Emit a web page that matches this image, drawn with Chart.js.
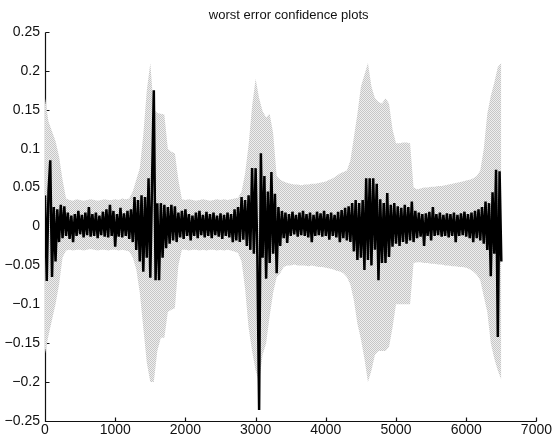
<!DOCTYPE html>
<html>
<head>
<meta charset="utf-8">
<script src="https://cdn.jsdelivr.net/npm/chart.js@4.4.1/dist/chart.umd.min.js"></script>
<style>
  html, body { margin: 0; padding: 0; background: #ffffff; }
  #wrap { width: 553px; height: 441px; }
</style>
</head>
<body>
<div id="wrap"><canvas id="c" width="553" height="441"></canvas></div>
<script>
// ---------- DATA ----------
const chartTitle = "worst error confidence plots";
const xTickValues = [0, 1000, 2000, 3000, 4000, 5000, 6000, 7000];
const yTickValues = [0.25, 0.2, 0.15, 0.1, 0.05, 0, -0.05, -0.1, -0.15, -0.2, -0.25];

// confidence band, sampled every 50 samples from 0 to 6500
const bandStep = 50;
const bandUpper = [
  0.165, 0.135, 0.122, 0.11, 0.09, 0.06, 0.036, 0.034, 0.033, 0.035,
  0.034, 0.033, 0.034, 0.035, 0.034, 0.033, 0.034, 0.035, 0.034, 0.034,
  0.035, 0.034, 0.036, 0.035, 0.036, 0.045, 0.06, 0.075, 0.118, 0.175,
  0.21, 0.15, 0.146, 0.145, 0.144, 0.1, 0.096, 0.094, 0.06, 0.035,
  0.034, 0.035, 0.034, 0.033, 0.034, 0.035, 0.034, 0.033, 0.034, 0.035,
  0.034, 0.035, 0.034, 0.035, 0.036, 0.037, 0.045, 0.068, 0.105, 0.155,
  0.19, 0.165, 0.148, 0.14, 0.145, 0.12, 0.065, 0.06, 0.058, 0.056,
  0.055, 0.054, 0.054, 0.053, 0.054, 0.054, 0.055, 0.055, 0.056, 0.057,
  0.058, 0.06, 0.062, 0.065, 0.068, 0.07, 0.072, 0.085, 0.115, 0.145,
  0.18, 0.195, 0.21, 0.18, 0.165, 0.16, 0.158, 0.165, 0.158, 0.125,
  0.107, 0.107, 0.108, 0.108, 0.107, 0.05, 0.048, 0.049, 0.05, 0.05,
  0.051, 0.051, 0.052, 0.052, 0.053, 0.054, 0.055, 0.056, 0.057, 0.058,
  0.059, 0.06, 0.062, 0.065, 0.072, 0.1, 0.145, 0.168, 0.185, 0.205,
  0.21
];
const bandLower = [
  -0.163, -0.14, -0.12, -0.1, -0.075, -0.04, -0.031, -0.03, -0.031, -0.03,
  -0.03, -0.031, -0.03, -0.029, -0.03, -0.031, -0.03, -0.03, -0.031, -0.03,
  -0.03, -0.031, -0.03, -0.031, -0.032, -0.04, -0.055, -0.085, -0.13, -0.175,
  -0.2, -0.2, -0.16, -0.143, -0.143, -0.11, -0.107, -0.105, -0.05, -0.03,
  -0.03, -0.031, -0.03, -0.03, -0.031, -0.03, -0.031, -0.03, -0.03, -0.031,
  -0.03, -0.031, -0.03, -0.031, -0.032, -0.034, -0.045, -0.08, -0.13, -0.16,
  -0.185, -0.2, -0.165, -0.15, -0.115, -0.085, -0.065, -0.06, -0.052, -0.05,
  -0.05, -0.049, -0.05, -0.05, -0.05, -0.051, -0.05, -0.051, -0.052, -0.052,
  -0.053, -0.054, -0.055, -0.057, -0.058, -0.06, -0.065, -0.075, -0.095, -0.125,
  -0.145, -0.17, -0.2, -0.185, -0.165, -0.16, -0.16, -0.16, -0.155, -0.13,
  -0.1, -0.1, -0.1, -0.1, -0.1, -0.047, -0.046, -0.046, -0.047, -0.047,
  -0.048, -0.048, -0.049, -0.049, -0.05, -0.05, -0.051, -0.051, -0.052, -0.052,
  -0.053, -0.055, -0.058, -0.062, -0.069, -0.09, -0.11, -0.15, -0.17, -0.185,
  -0.197
];

// worst error signal, sampled every 25 samples from 0 to 6500
const errorStep = 25;
const errorValues = [
  0.04, -0.07, 0.045, 0.085, -0.065, 0.025, -0.045, 0.022, -0.02, 0.028,
  -0.015, 0.026, -0.012, 0.018, -0.016, 0.014, -0.02, 0.016, -0.012, 0.02,
  -0.01, 0.015, -0.014, 0.018, -0.011, 0.025, -0.013, 0.016, -0.012, 0.018,
  -0.015, 0.014, -0.011, 0.019, -0.013, 0.022, -0.014, 0.028, -0.012, 0.02,
  -0.026, 0.016, -0.013, 0.024, -0.014, 0.017, -0.012, 0.02, -0.016, 0.022,
  -0.02, 0.038, -0.03, 0.034, -0.045, 0.04, -0.058, 0.038, -0.04, 0.062,
  -0.066, 0.058, 0.175, -0.069, 0.03, -0.069, 0.03, -0.04, 0.028, -0.028,
  0.025, -0.022, 0.028, -0.018, 0.026, -0.02, 0.018, -0.014, 0.02, -0.016,
  0.022, -0.012, 0.016, -0.018, 0.014, -0.012, 0.018, -0.015, 0.02, -0.011,
  0.015, -0.014, 0.019, -0.012, 0.016, -0.015, 0.018, -0.011, 0.014, -0.013,
  0.017, -0.016, 0.015, -0.012, 0.018, -0.014, 0.016, -0.02, 0.022, -0.018,
  0.025, -0.02, 0.038, -0.017, 0.034, -0.025, 0.04, -0.03, 0.075, -0.035,
  0.075, -0.039, -0.236, 0.094, -0.04, 0.065, -0.067, 0.045, -0.047, 0.07,
  -0.035, 0.042, -0.06, 0.025, -0.025, 0.02, -0.015, 0.018, -0.021, 0.016,
  -0.012, 0.019, -0.01, 0.015, -0.013, 0.018, -0.011, 0.02, -0.012, 0.016,
  -0.014, 0.018, -0.02, 0.015, -0.012, 0.019, -0.011, 0.017, -0.013, 0.02,
  -0.012, 0.016, -0.017, 0.018, -0.012, 0.015, -0.014, 0.019, -0.02, 0.021,
  -0.015, 0.024, -0.018, 0.026, -0.02, 0.03, -0.032, 0.034, -0.043, 0.03,
  -0.04, 0.034, -0.056, 0.062, -0.043, 0.062, -0.05, 0.062, -0.03, 0.055,
  -0.069, 0.035, -0.047, 0.03, -0.047, 0.043, -0.039, 0.028, -0.026, 0.03,
  -0.022, 0.026, -0.025, 0.024, -0.02, 0.028, -0.022, 0.025, -0.018, 0.032,
  -0.02, 0.02, -0.015, 0.018, -0.013, 0.016, -0.025, 0.017, -0.012, 0.019,
  -0.018, 0.025, -0.012, 0.016, -0.011, 0.018, -0.013, 0.015, -0.012, 0.017,
  -0.014, 0.016, -0.012, 0.018, -0.02, 0.015, -0.012, 0.017, -0.011, 0.019,
  -0.013, 0.016, -0.015, 0.018, -0.02, 0.02, -0.015, 0.022, -0.018, 0.025,
  -0.022, 0.032, -0.03, 0.03, -0.064, 0.044, -0.035, 0.073, -0.142, 0.071,
  -0.045
];

// ---------- BUILD ----------
const FONT = "'Liberation Sans', Arial, Helvetica, sans-serif";

function toPoints(values, step) {
  return values.map((v, i) => ({ x: i * step, y: v }));
}

// light dithered grey fill like the printed band
function makeBandPattern() {
  const p = document.createElement('canvas');
  p.width = 2; p.height = 2;
  const g = p.getContext('2d');
  g.fillStyle = '#eeeeee'; g.fillRect(0, 0, 2, 2);
  g.fillStyle = '#c6c6c6'; g.fillRect(0, 0, 1, 1); g.fillRect(1, 1, 1, 1);
  return g.createPattern(p, 'repeat');
}

function fmtTick(v) {
  const r = Math.round(v * 100) / 100;
  if (r === 0) return '0';
  const s = String(Math.abs(r));
  return (r < 0 ? '\u2212' : '') + s;
}

// axis lines with inward ticks, drawn under the data (MATLAB style)
const axesPlugin = {
  id: 'matlabAxes',
  beforeDatasetsDraw(chart) {
    const { ctx, chartArea, scales } = chart;
    const xs = scales.x, ys = scales.y;
    const L = Math.round(chartArea.left) + 0.5;
    const B = Math.round(chartArea.bottom) + 0.5;
    ctx.save();
    ctx.strokeStyle = '#111';
    ctx.lineWidth = 1.2;
    ctx.beginPath();
    ctx.moveTo(L, Math.round(ys.getPixelForValue(0.25)) + 0.5);
    ctx.lineTo(L, B);
    ctx.lineTo(Math.round(xs.getPixelForValue(7000)) + 0.5, B);
    xTickValues.forEach(v => {
      const px = Math.round(xs.getPixelForValue(v)) + 0.5;
      ctx.moveTo(px, B);
      ctx.lineTo(px, B - 4);
    });
    yTickValues.forEach(v => {
      const py = Math.round(ys.getPixelForValue(v)) + 0.5;
      ctx.moveTo(L, py);
      ctx.lineTo(L + 4, py);
    });
    ctx.stroke();
    ctx.restore();
  }
};

const titlePlugin = {
  id: 'plotTitle',
  afterDraw(chart) {
    const { ctx, chartArea } = chart;
    ctx.save();
    ctx.fillStyle = '#111';
    ctx.font = '13px ' + FONT;
    ctx.textAlign = 'center';
    ctx.textBaseline = 'middle';
    ctx.fillText(chartTitle, (chartArea.left + chartArea.right) / 2 - 2, 15);
    ctx.restore();
  }
};

new Chart(document.getElementById('c'), {
  type: 'line',
  data: {
    datasets: [
      {
        label: 'worst error',
        data: toPoints(errorValues, errorStep),
        borderColor: '#000000',
        borderWidth: 2.5,
        pointRadius: 0,
        tension: 0,
        fill: false
      },
      {
        label: 'upper confidence',
        data: toPoints(bandUpper, bandStep),
        borderWidth: 0,
        borderColor: 'rgba(0,0,0,0)',
        pointRadius: 0,
        tension: 0,
        fill: false
      },
      {
        label: 'lower confidence',
        data: toPoints(bandLower, bandStep),
        borderWidth: 0,
        borderColor: 'rgba(0,0,0,0)',
        backgroundColor: makeBandPattern(),
        pointRadius: 0,
        tension: 0,
        fill: 1
      }
    ]
  },
  options: {
    responsive: false,
    animation: false,
    devicePixelRatio: 1,
    layout: { padding: { top: 32, left: 0, right: 15, bottom: 0 } },
    plugins: {
      legend: { display: false },
      title: { display: false },
      tooltip: { enabled: false },
      filler: { propagate: false }
    },
    scales: {
      x: {
        type: 'linear',
        min: 0,
        max: 7000,
        afterFit(scale) { scale.height = 20; },
        afterBuildTicks(scale) { scale.ticks = xTickValues.map(v => ({ value: v })); },
        grid: { display: false, drawTicks: false },
        border: { display: false },
        ticks: {
          padding: 1,
          color: '#111',
          font: { family: FONT, size: 14 },
          maxRotation: 0,
          callback: v => String(v)
        }
      },
      y: {
        type: 'linear',
        min: -0.25,
        max: 0.25,
        afterFit(scale) { scale.width = 45; },
        afterBuildTicks(scale) { scale.ticks = yTickValues.map(v => ({ value: v })); },
        grid: { display: false, drawTicks: false },
        border: { display: false },
        ticks: {
          padding: 5,
          color: '#111',
          font: { family: FONT, size: 14 },
          callback: v => fmtTick(v)
        }
      }
    }
  },
  plugins: [axesPlugin, titlePlugin]
});
</script>
</body>
</html>
